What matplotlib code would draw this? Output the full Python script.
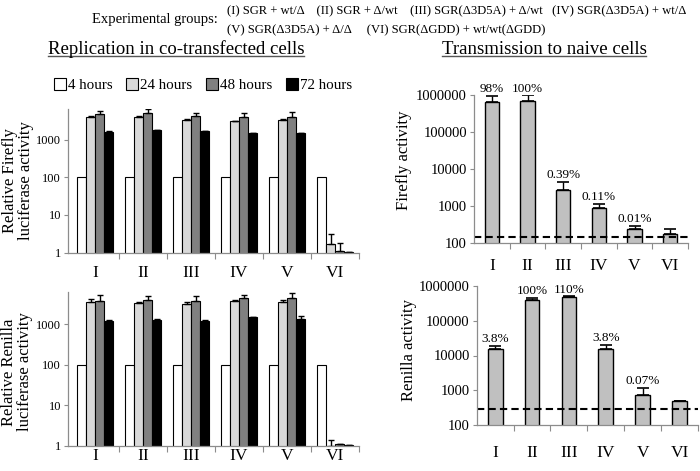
import numpy as np
import matplotlib
matplotlib.use("Agg")
import matplotlib.pyplot as plt
from matplotlib.lines import Line2D
from matplotlib.patches import Patch

plt.rcParams['font.family'] = ['Liberation Serif', 'DejaVu Serif']

groups = ["I", "II", "III", "IV", "V", "VI"]
hours = ["4 hours", "24 hours", "48 hours", "72 hours"]

# replication, firefly (relative)
ff_4 = [100, 100, 100, 100, 100, 100]
ff_24 = [4060, 4060, 3370, 3070, 3250, 1.7]
ff_24_err = [150, 200, 150, 120, 200, 1.4]
ff_48 = [4700, 5000, 4240, 3900, 3900, 1.1]
ff_48_err = [1150, 1350, 940, 1100, 1500, 0.75]
ff_72 = [1590, 1760, 1660, 1470, 1470, 1.06]
ff_72_err = [110, 60, 50, 40, 50, 0]

# replication, renilla (relative)
rl_4 = [100, 100, 100, 100, 100, 100]
rl_24 = [3530, 3390, 3250, 3800, 3600, 1.0]
rl_24_err = [570, 250, 250, 150, 400, 0.37]
rl_48 = [3800, 3950, 3800, 4440, 4400, 1.12]
rl_48_err = [1430, 1150, 1120, 910, 1600, 0]
rl_72 = [1200, 1250, 1200, 1480, 1380, 1.05]
rl_72_err = [40, 120, 40, 40, 220, 0]

# transmission to naive cells
tr_ff = [645000, 660000, 2700, 900, 234, 175]
tr_ff_err = [295000, 300000, 1800, 230, 59, 59]
tr_ff_pct = ["98%", "100%", "0.39%", "0.11%", "0.01%", ""]
tr_ff_cut = 145

tr_rl = [15400, 400000, 470000, 15400, 760, 490]
tr_rl_err = [3200, 45000, 30000, 4600, 410, 0]
tr_rl_pct = ["3.8%", "100%", "110%", "3.8%", "0.07%", ""]
tr_rl_cut = 290

W, H = 700, 471
fig = plt.figure(figsize=(7, 4.71), dpi=100)

def box(l, t, r, b):
    return [l / W, 1 - b / H, (r - l) / W, (b - t) / H]

bar_cols = ["white", "#d9d9d9", "#808080", "black"]
spine_col = "#8c8c8c"


def style(ax, ymin, ymax, yticks, pad, yfs):
    ax.set_yscale("log")
    ax.set_ylim(ymin, ymax)
    ax.set_yticks(yticks)
    ax.set_yticklabels([str(t) for t in yticks], fontsize=yfs)
    ax.yaxis.set_minor_locator(matplotlib.ticker.NullLocator())
    for s in ["top", "right"]:
        ax.spines[s].set_visible(False)
    for s in ["left", "bottom"]:
        ax.spines[s].set_color(spine_col)
        ax.spines[s].set_linewidth(0.9)
    ax.tick_params(axis="y", length=3, color=spine_col, pad=2)
    ax.set_xticks(np.arange(6) + 0.5)
    ax.set_xticklabels([])
    ax.tick_params(axis="x", which="major", length=4, color=spine_col)
    ax.set_xticks(np.arange(6), minor=True)
    ax.set_xticklabels(groups, minor=True, fontsize=12.5)
    ax.tick_params(axis="x", which="minor", length=0, pad=pad)


def replication(ax, series, errs, ymax, pad):
    x = np.arange(6)
    w = 0.1875
    offs = [-1.5, -0.5, 0.5, 1.5]
    for vals, err, col, o in zip(series, errs, bar_cols, offs):
        ax.bar(x + o * w, vals, w, color=col, edgecolor="black", linewidth=0.8)
        if err is not None:
            ax.errorbar(x + o * w, vals, yerr=[np.zeros(6), err], fmt="none",
                        ecolor="black", elinewidth=1, capsize=2.5, capthick=1)
    ax.set_xlim(-0.5625, 5.5)
    style(ax, 1, ymax, [1, 10, 100, 1000], pad, 9)


def transmission(ax, vals, err, pct, cut, pad):
    x = np.arange(6)
    ax.bar(x, vals, 0.4, color="#c0c0c0", edgecolor="black", linewidth=1)
    ax.errorbar(x, vals, yerr=[np.zeros(6), err], fmt="none", ecolor="black",
                elinewidth=1, capsize=4, capthick=1.2)
    for xi, v, e, t in zip(x, vals, err, pct):
        if t:
            ax.annotate(t, (xi, v + e), xytext=(0, 0.5), textcoords="offset points",
                        ha="center", va="bottom", fontsize=9.5)
    ax.set_xlim(-0.5, 5.5)
    ax.axhline(cut, color="black", ls=(0, (3.5, 2)), lw=1.5)
    style(ax, 100, 1000000, [100, 1000, 10000, 100000, 1000000], pad, 10.5)


ax1 = fig.add_axes(box(68, 109, 359, 252.7))
replication(ax1, [ff_4, ff_24, ff_48, ff_72], [None, ff_24_err, ff_48_err, ff_72_err], 6470, 9)

ax2 = fig.add_axes(box(68, 292.3, 359, 446))
replication(ax2, [rl_4, rl_24, rl_48, rl_72], [None, rl_24_err, rl_48_err, rl_72_err], 6140, 1.5)

ax3 = fig.add_axes(box(474, 94.7, 688, 243))
transmission(ax3, tr_ff, tr_ff_err, tr_ff_pct, tr_ff_cut, 11)

ax4 = fig.add_axes(box(476.7, 285.7, 698, 425.3))
transmission(ax4, tr_rl, tr_rl_err, tr_rl_pct, tr_rl_cut, 14)

# axis labels
fig.text(18 / W, 1 - 181 / H, "Relative Firefly\nluciferase activity", rotation=90,
         ha="center", va="center", fontsize=12, linespacing=1.05)
fig.text(17 / W, 1 - 372 / H, "Relative Renilla\nluciferase activity", rotation=90,
         ha="center", va="center", fontsize=12, linespacing=1.05)
fig.text(404 / W, 1 - 160 / H, "Firefly activity", rotation=90,
         ha="center", va="center", fontsize=12)
fig.text(409 / W, 1 - 350 / H, "Renilla activity", rotation=90,
         ha="center", va="center", fontsize=12)

# header
fig.text(92 / W, 1 - 19 / H, "Experimental groups:", ha="left", va="center", fontsize=10.5)
fig.text(227 / W, 1 - 11 / H,
         "(I) SGR + wt/\u0394    (II) SGR + \u0394/wt    (III) SGR(\u03943D5A) + \u0394/wt   (IV) SGR(\u03943D5A) + wt/\u0394",
         ha="left", va="center", fontsize=9.1)
fig.text(227 / W, 1 - 30 / H,
         "(V) SGR(\u03943D5A) + \u0394/\u0394     (VI) SGR(\u0394GDD) + wt/wt(\u0394GDD)",
         ha="left", va="center", fontsize=9.1)

# titles, underlined
t1 = fig.text(176 / W, 1 - 49 / H, "Replication in co-transfected cells",
              ha="center", va="center", fontsize=13.5)
t2 = fig.text(544 / W, 1 - 49 / H, "Transmission to naive cells",
              ha="center", va="center", fontsize=13.5)
fig.canvas.draw()
r = fig.canvas.get_renderer()
for t in (t1, t2):
    bb = t.get_window_extent(r).transformed(fig.transFigure.inverted())
    fig.add_artist(Line2D([bb.x0, bb.x1], [bb.y0 + 0.004, bb.y0 + 0.004],
                          color="#555555", lw=1, transform=fig.transFigure))

handles = [Patch(facecolor=c, edgecolor="black", linewidth=0.8) for c in bar_cols]
fig.legend(handles, hours, loc="center", bbox_to_anchor=(203 / W, 1 - 85 / H), ncol=4,
           frameon=False, fontsize=10.8, handlelength=0.8, handleheight=0.8,
           handletextpad=0.15, columnspacing=0.9, borderpad=0)

fig.savefig("out.png", dpi=100)
